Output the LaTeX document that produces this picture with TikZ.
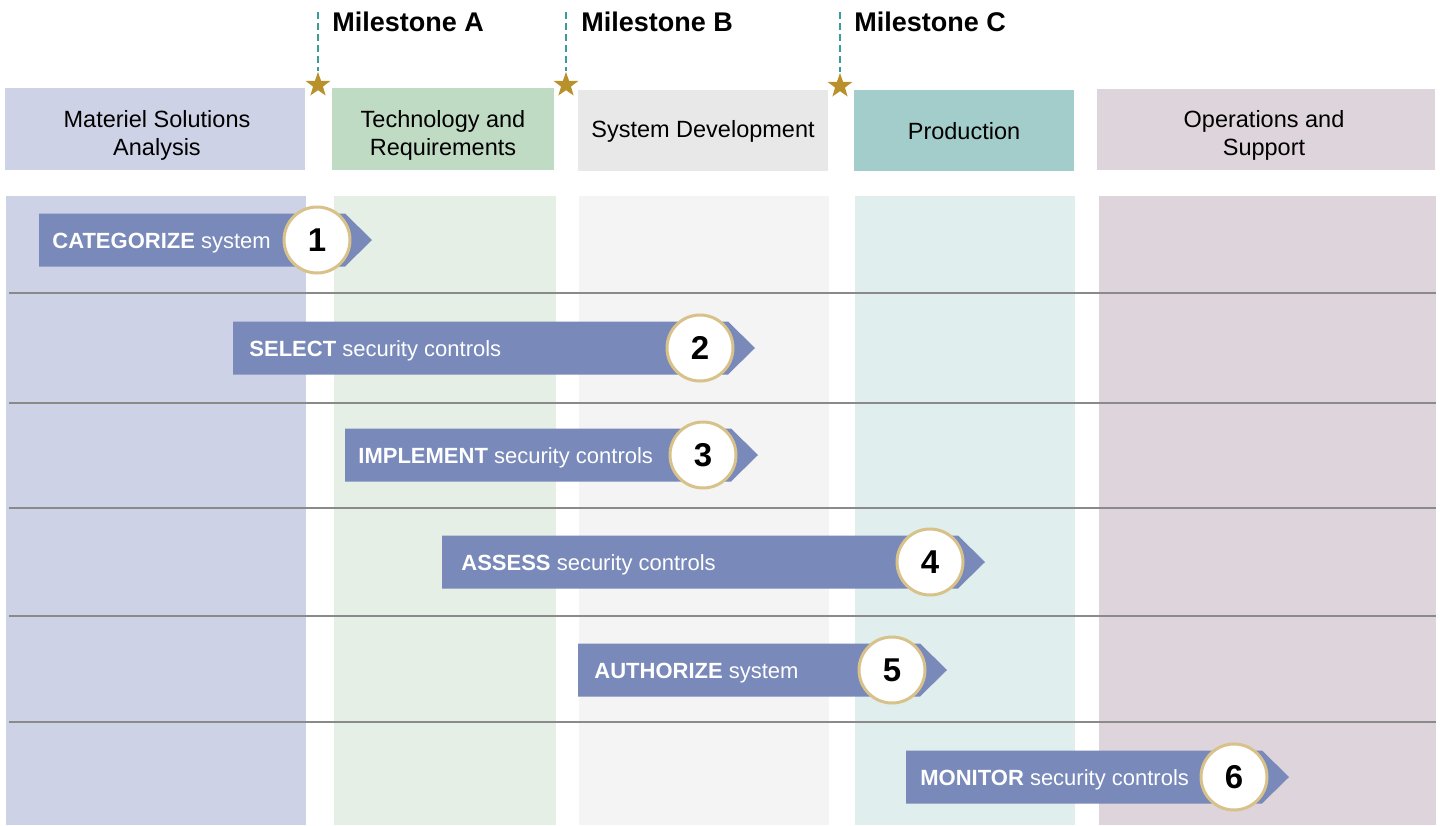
\documentclass[tikz,border=0pt]{standalone}
\usepackage{fontspec}
\setmainfont{Liberation Sans}
\usetikzlibrary{positioning, shapes.geometric}

\definecolor{msahead}{HTML}{CDD2E6}
\definecolor{trhead}{HTML}{C0DBC3}
\definecolor{trbody}{HTML}{E5EFE5}
\definecolor{sdhead}{HTML}{E8E8E8}
\definecolor{sdbody}{HTML}{F4F4F4}
\definecolor{prodhead}{HTML}{A3CDCA}
\definecolor{prodbody}{HTML}{E0EEEE}
\definecolor{oshead}{HTML}{DED4DB}
\definecolor{bannerblue}{HTML}{7889BA}
\definecolor{ringgold}{HTML}{D8C28A}
\definecolor{stargold}{HTML}{B8912B}
\definecolor{milteal}{HTML}{3A9C98}
\definecolor{rowline}{HTML}{8A8A8A}

\tikzset{
  phasehead/.style={align=center, inner sep=0pt, font=\fontsize{11.75}{14}\selectfont},
  milestone/.style={anchor=west, inner sep=0pt, font=\fontsize{13.5}{16}\selectfont\bfseries},
  milestar/.style={star, star points=5, star point ratio=2.5, fill=stargold,
    inner sep=0pt, minimum size=13pt},
  milestoneline/.style={milteal, line width=1pt, dash pattern=on 3.5pt off 2pt},
  steplabel/.style={anchor=base west, inner sep=0pt, text=white, font=\fontsize{11}{13}\selectfont},
  stepnum/.style={circle, draw=ringgold, line width=1.5pt, fill=white, minimum size=33pt,
    inner sep=0pt, font=\fontsize{16.5}{18}\selectfont\bfseries},
}

\begin{document}
\begin{tikzpicture}[x=0.5pt, y=-0.5pt]
    \useasboundingbox (0,0) rectangle (1440,825);

    % Column bodies
    \fill[msahead] (6,196) rectangle (306,825);
    \fill[trbody] (334,196) rectangle (556,825);
    \fill[sdbody] (579,196) rectangle (829,825);
    \fill[prodbody] (855,196) rectangle (1075,825);
    \fill[oshead] (1099,196) rectangle (1436,825);

    % Phase headers
    \fill[msahead] (5,88) rectangle (305,170);
    \fill[trhead] (332,88) rectangle (554,170);
    \fill[sdhead] (578,90) rectangle (828,171);
    \fill[prodhead] (854,90) rectangle (1074,171);
    \fill[oshead] (1097,89) rectangle (1435,170);
    \node[phasehead] (msa) at (157,135) {Materiel Solutions\\Analysis};
    \node[phasehead] (tr) at (443,135) {Technology and\\Requirements};
    \node[phasehead] (sd) at (703,131.5) {System Development};
    \node[phasehead] (prod) at (964,131.5) {Production};
    \node[phasehead] (os) at (1264,135) {Operations and\\Support};

    % Milestones
    \node[milestar] (starA) at (318,85) {};
    \node[milestar] (starB) at (566,85) {};
    \node[milestar] (starC) at (840,86) {};
    \coordinate (topA) at (318,12);
    \coordinate (topB) at (566,12);
    \coordinate (topC) at (840,12);
    \draw[milestoneline] (topA) -- (starA.north);
    \draw[milestoneline] (topB) -- (starB.north);
    \draw[milestoneline] (topC) -- (starC.north);
    \node[milestone] (labA) at (332,22) {Milestone A};
    \node[milestone] (labB) at (581,22) {Milestone B};
    \node[milestone] (labC) at (854,22) {Milestone C};

    % Row separators
    \foreach \y in {293,403,508,616,722}
        \draw[rowline, line width=0.7pt] (9,\y) -- (1436,\y);

    % Steps
    \foreach \n/\yc/\xs/\xt/\tx/\bw/\rw in {
        1/240/39/372/52/CATEGORIZE/system,
        2/348/233/755/249/SELECT/security controls,
        3/455/345/758/358/IMPLEMENT/security controls,
        4/562/442/985/461/ASSESS/security controls,
        5/670/578/947/594/AUTHORIZE/system,
        6/777/906/1289/920/MONITOR/security controls}
    {
        \fill[bannerblue] (\xs,\yc-26.5) -- (\xt-27,\yc-26.5) -- (\xt,\yc)
            -- (\xt-27,\yc+26.5) -- (\xs,\yc+26.5) -- cycle;
        \node[steplabel] (step\n) at (\tx,\yc+8) {\textbf{\bw} \rw};
        \node[stepnum] (num\n) at (\xt-55,\yc) {\n};
    }
\end{tikzpicture}
\end{document}
